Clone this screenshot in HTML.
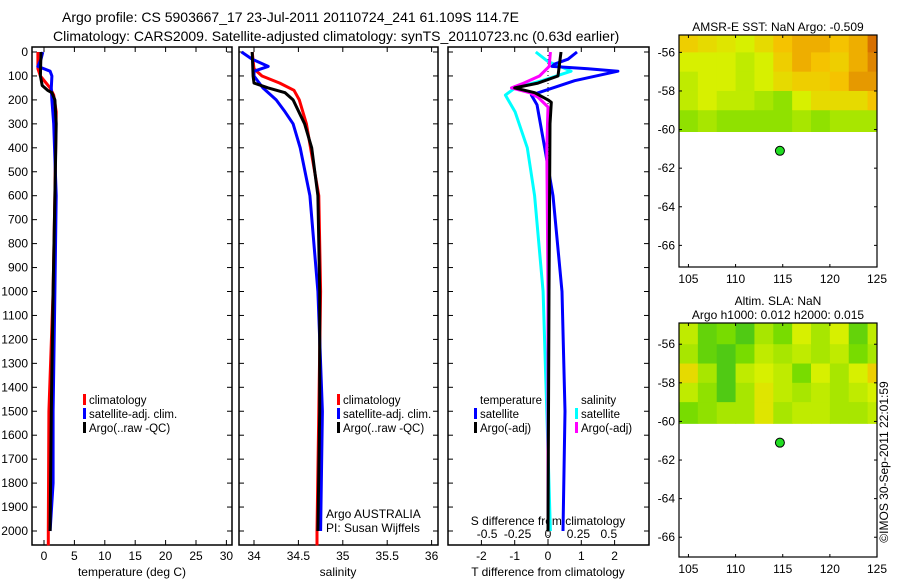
<!DOCTYPE html>
<html><head><meta charset="utf-8">
<style>
body{margin:0;background:#fff;width:900px;height:580px;overflow:hidden}
svg{display:block;font-family:"Liberation Sans",sans-serif;font-size:12px}
</style></head><body>
<svg id="fig" width="900" height="580" viewBox="0 0 900 580">
<text x="62" y="22" text-anchor="start" font-size="14">Argo profile: CS 5903667_17 23-Jul-2011 20110724_241 61.109S 114.7E</text>
<text x="53" y="41" text-anchor="start" font-size="14">Climatology: CARS2009. Satellite-adjusted climatology: synTS_20110723.nc (0.63d earlier)</text>
<text transform="translate(888,462) rotate(-90)" text-anchor="middle" font-size="12">©IMOS 30-Sep-2011 22:01:59</text>
</svg>
<script>
// ---------- data ----------
const depthTicks=[0,100,200,300,400,500,600,700,800,900,1000,1100,1200,1300,1400,1500,1600,1700,1800,1900,2000];
const tempTicks=[0,5,10,15,20,25,30];
const salTicks=[34,34.5,35,35.5,36];
const tdTicks=[-2,-1,0,1,2];
const sdTicks=[-0.5,-0.25,0,0.25,0.5];
const sdTickLabels=["-0.5","-0.25","0","0.25","0.5"];

const tClimD=[0,70,100,150,180,250,600,1000,1500,2000,2060];
const tClimV=[-1,-1,-0.6,1.0,1.6,2.0,1.8,1.5,0.8,0.7,0.7];
const tSatD=[0,30,60,80,100,150,200,300,600,1000,1500,1800,2000];
const tSatV=[-0.2,-0.5,-1,1.0,1.3,1.2,1.3,1.6,2.0,1.8,1.5,1.5,1.0];
const tArgoD=[0,100,140,160,170,200,300,600,1000,1500,2000];
const tArgoV=[-0.5,-0.6,-0.3,0.6,1.3,1.8,2.0,1.8,1.5,1.2,1.0];

const sClimD=[0,70,100,130,160,200,300,600,1000,1500,2000,2060];
const sClimV=[33.98,34.0,34.09,34.29,34.45,34.51,34.59,34.73,34.75,34.73,34.71,34.71];
const sSatD=[0,30,60,80,100,150,200,250,300,400,600,1000,1500,2000];
const sSatV=[33.86,33.98,34.16,34.0,34.0,34.1,34.25,34.35,34.44,34.52,34.63,34.72,34.77,34.75];
const sArgoD=[0,100,130,150,170,200,300,400,600,1000,1500,2000];
const sArgoV=[33.98,33.99,34.0,34.16,34.35,34.44,34.57,34.65,34.72,34.74,34.74,34.72];

const dTSatD=[0,30,50,60,70,80,120,180,220,400,600,1000,1500,2000];
const dTSatV=[0.87,0.6,0.2,0.12,1.2,2.1,0.8,-0.5,-0.33,-0.1,0.15,0.42,0.51,0.45];
const dTArgoD=[0,100,130,150,170,200,210,300,1000,2000];
const dTArgoV=[0.39,0.3,-0.3,-1.0,-0.4,0,0.1,0.06,0.03,0];
const dSSatD=[0,40,60,80,120,150,180,250,400,600,1000,1500,2000];
const dSSatV=[-0.1,0.0,0.1,0.19,-0.05,-0.27,-0.35,-0.27,-0.17,-0.11,-0.04,-0.01,0.02];
const dSArgoD=[0,60,100,130,150,170,190,230,400,1000,2000];
const dSArgoV=[0.02,0.01,-0.07,-0.2,-0.3,-0.15,-0.08,0,-0.01,0,0];

const mapLonTicks=[105,110,115,120,125];
const mapLatTicks=[-56,-58,-60,-62,-64,-66];
const gridLons=[104,106,108,110,112,114,116,118,120,122,124,126];
const sstLats=[-55.1,-56,-57,-58,-59,-60.1];
const sstVals=[
[6.5,6,5.5,5,6,7,7.5,7.5,7,7.5,9],
[5,5,5,4.5,5,6.5,7.5,7,6.5,7.5,8.5],
[4.5,5,5,4.5,5,6,6.5,6.5,7,8,8],
[4.5,5,4.5,4.5,4,3.5,5,6,6,6,7],
[3.5,4,3.5,3.5,3.5,3.5,4,3.5,4,4,4]];
const slaLats=[-54.9,-56,-57,-58,-59,-60.1];
const slaVals=[
[4.5,2.5,3,2,4,3,5,4,5,2.5,4.5],
[4,2.5,2,3,4.5,4,4.5,4,4.5,3,4],
[6,4,2,4.5,5,4.5,3,5,4,5,6.5],
[4.5,3.5,2,4,5.5,4.5,4,4.5,4,4.5,5],
[3,3.5,4,4,5.5,4,4.5,4.5,4,4,4.5]];
const argoLon=[114.7], argoLat=[-61.1];

// ---------- drawing ----------
const NS="http://www.w3.org/2000/svg";
const svg=document.getElementById('fig');
function mk(tag,attrs,parent){const e=document.createElementNS(NS,tag);for(const k in attrs)e.setAttribute(k,attrs[k]);(parent||svg).appendChild(e);return e;}
const yD=d=>52+d*0.2395;
const PB=545;
const panels=[
 {x0:32,x1:232,f:t=>44+t*6.08},
 {x0:239,x1:438,f:s=>254+(s-34)*88.8},
 {x0:448,x1:649,f:t=>548+t*33.3}
];
const fS=s=>548+s*121.7;

panels.forEach((p,i)=>{
  const r=mk('rect',{x:p.x0,y:47,width:p.x1-p.x0,height:PB-47,fill:'none',stroke:'#000','stroke-width':1.5});
  
  
  depthTicks.forEach(d=>{
    mk('line',{x1:p.x0,x2:p.x0+5,y1:yD(d),y2:yD(d),stroke:'#000'});
    mk('line',{x1:p.x1-5,x2:p.x1,y1:yD(d),y2:yD(d),stroke:'#000'});
  });
});
depthTicks.forEach(d=>{
  const t=mk('text',{x:28,y:yD(d)+4,'text-anchor':'end'});t.textContent=d;
  
  
});
function xTicks(p,ticks,labels,fn,yl){
  ticks.forEach((v,i)=>{
    const x=fn(v);
    mk('line',{x1:x,x2:x,y1:47,y2:52,stroke:'#000'});
    mk('line',{x1:x,x2:x,y1:PB-5,y2:PB,stroke:'#000'});
    const t=mk('text',{x:x,y:yl,'text-anchor':'middle'});t.textContent=labels?labels[i]:v;
    
    
  });
}
xTicks(panels[0],tempTicks,null,panels[0].f,560);
xTicks(panels[1],salTicks,null,panels[1].f,560);
xTicks(panels[2],tdTicks,null,panels[2].f,560);
sdTicks.forEach((v,i)=>{const t=mk('text',{x:fS(v),y:538,'text-anchor':'middle'});t.textContent=sdTickLabels[i];
 
 });
[["temperature (deg C)",132,576,'x-axis-title-temperature'],["salinity",338,576,'x-axis-title-salinity'],["T difference from climatology",548,576,'x-axis-title-t-diff'],["S difference from climatology",548,525,'x-axis-title-s-diff']].forEach(a=>{
 const t=mk('text',{x:a[1],y:a[2],'text-anchor':'middle'});t.textContent=a[0];
 
 });
const z=mk('line',{x1:548,x2:548,y1:47,y2:PB,stroke:'#000','stroke-dasharray':'1,3'});



function series(D,V,fx,col,name){
  const pts=D.map((d,i)=>fx(V[i]).toFixed(1)+','+yD(d).toFixed(1)).join(' ');
  const e=mk('polyline',{points:pts,fill:'none',stroke:col,'stroke-width':3,'stroke-linejoin':'round'});
  
  
}
const RED='#f00',BLUE='#0000ff',BLK='#000',CY='#00ffff',MG='#ff00ff';
series(tClimD,tClimV,panels[0].f,RED,'temp-climatology-line');
series(tSatD,tSatV,panels[0].f,BLUE,'temp-satellite-line');
series(tArgoD,tArgoV,panels[0].f,BLK,'temp-argo-line');
series(sClimD,sClimV,panels[1].f,RED,'sal-climatology-line');
series(sSatD,sSatV,panels[1].f,BLUE,'sal-satellite-line');
series(sArgoD,sArgoV,panels[1].f,BLK,'sal-argo-line');
series(dSSatD,dSSatV,fS,CY,'sdiff-satellite-line');
series(dTSatD,dTSatV,panels[2].f,BLUE,'tdiff-satellite-line');
series(dSArgoD,dSArgoV,fS,MG,'sdiff-argo-line');
series(dTArgoD,dTArgoV,panels[2].f,BLK,'tdiff-argo-line');

function legend(x,y,items,name){
  items.forEach((it,i)=>{
    const yy=y+i*14;
    if(it[1]){const s=mk('rect',{x:x,y:yy-10,width:3,height:11,fill:it[1]});
      
      }
    const t=mk('text',{x:x+6,y:yy,'font-size':'11.5'});t.textContent=it[0];
    
    
  });
}
legend(83,404,[["climatology",RED],["satellite-adj. clim.",BLUE],["Argo(..raw -QC)",BLK]],'legend-temp');
legend(337,404,[["climatology",RED],["satellite-adj. clim.",BLUE],["Argo(..raw -QC)",BLK]],'legend-sal');
legend(474,404,[["temperature",null],["satellite",BLUE],["Argo(-adj)",BLK]],'legend-tdiff');
legend(575,404,[["salinity",null],["satellite",CY],["Argo(-adj)",MG]],'legend-sdiff');
[["Argo AUSTRALIA",518],["PI: Susan Wijffels",532]].forEach(a=>{const t=mk('text',{x:326,y:a[1]});t.textContent=a[0];
 
 });

// maps
function cmap(v){
  const stops=[[0,[0,165,60]],[3,[120,220,0]],[5,[215,240,0]],[7,[245,195,0]],[10,[200,70,0]]];
  for(let i=1;i<stops.length;i++){if(v<=stops[i][0]){const a=stops[i-1],b=stops[i],t=(v-a[0])/(b[0]-a[0]);
    return 'rgb('+a[1].map((c,k)=>Math.round(c+(b[1][k]-c)*t)).join(',')+')';}}
  return 'rgb(200,70,0)';
}
function drawMap(top,bot,latTop,lats,vals,title,name){
  const L=679,R=877;
  const fx=lon=>L+(lon-104)*9.43;
  const fy=lat=>top+(latTop-lat)*19.3;
  vals.forEach((row,r)=>row.forEach((v,c)=>{
    const x0=fx(gridLons[c]),x1=Math.min(fx(gridLons[c+1]),R),y0=fy(lats[r]),y1=fy(lats[r+1]);
    const e=mk('rect',{x:x0,y:y0,width:x1-x0+0.5,height:y1-y0+0.5,fill:cmap(v)});
    
    
  }));
  const f=mk('rect',{x:L,y:top,width:R-L,height:bot-top,fill:'none',stroke:'#000','stroke-width':1.2});
  
  
  mapLonTicks.forEach(lon=>{const x=fx(lon);
    mk('line',{x1:x,x2:x,y1:top,y2:top+3,stroke:'#000'});mk('line',{x1:x,x2:x,y1:bot-3,y2:bot,stroke:'#000'});
    const t=mk('text',{x:x,y:bot+16,'text-anchor':'middle'});t.textContent=lon;
    
    });
  mapLatTicks.forEach(lat=>{const y=fy(lat);
    mk('line',{x1:L,x2:L+3,y1:y,y2:y,stroke:'#000'});mk('line',{x1:R-3,x2:R,y1:y,y2:y,stroke:'#000'});
    const t=mk('text',{x:L-4,y:y+4,'text-anchor':'end'});t.textContent=lat;
    
    });
  argoLon.forEach((lon,i)=>{const c=mk('circle',{cx:fx(lon),cy:fy(argoLat[i]),r:4.5,fill:'#22dd22',stroke:'#000'});
    
    });
  title.forEach((s,i)=>{const t=mk('text',{x:778,y:top-(title.length-i)*14+10,'text-anchor':'middle'});t.textContent=s;
    
    });
}
drawMap(35,267,-55.1,sstLats,sstVals,["AMSR-E SST: NaN Argo: -0.509"],'sst-map');
drawMap(323,557,-54.9,slaLats,slaVals,["Altim. SLA: NaN","Argo h1000: 0.012 h2000: 0.015"],'sla-map');
</script>
</body></html>
